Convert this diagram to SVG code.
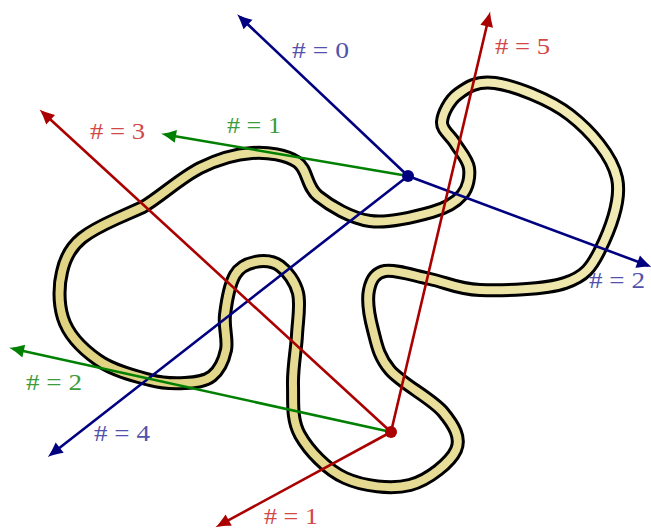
<svg xmlns="http://www.w3.org/2000/svg" width="651" height="529" viewBox="0 0 651 529">
<style>
.ray{fill:none;stroke-width:2.6}
.b{stroke:#000080}
.r{stroke:#aa0000}
.g{stroke:#008000}
.lbl{font-family:"Liberation Serif","Times New Roman",serif;font-size:24px}
.lb{fill:#5252ac}
.lr{fill:#d24848}
.lg{fill:#3c9c3c}
</style>
<defs>
<linearGradient id="yel" gradientUnits="userSpaceOnUse" x1="80" y1="470" x2="600" y2="90">
<stop offset="0" stop-color="#ddcf7a"/>
<stop offset="1" stop-color="#f3edba"/>
</linearGradient>
<marker id="ab" markerUnits="userSpaceOnUse" markerWidth="24" markerHeight="24" viewBox="-14 -12 24 24" refX="0" refY="0" orient="auto" overflow="visible"><path d="M4,0 C-1,-1.2 -6,-4 -11,-6.5 L-11,6.5 C-6,4 -1,1.2 4,0 Z" fill="#000080"/></marker>
<marker id="ar" markerUnits="userSpaceOnUse" markerWidth="24" markerHeight="24" viewBox="-14 -12 24 24" refX="0" refY="0" orient="auto" overflow="visible"><path d="M4,0 C-1,-1.2 -6,-4 -11,-6.5 L-11,6.5 C-6,4 -1,1.2 4,0 Z" fill="#aa0000"/></marker>
<marker id="ag" markerUnits="userSpaceOnUse" markerWidth="24" markerHeight="24" viewBox="-14 -12 24 24" refX="0" refY="0" orient="auto" overflow="visible"><path d="M4,0 C-1,-1.2 -6,-4 -11,-6.5 L-11,6.5 C-6,4 -1,1.2 4,0 Z" fill="#008000"/></marker>
<path id="curvePath" d="M143,207 C159.7,197.2 181.8,177 200,168 C218.2,159 235.8,154 252,153 C268.2,152 286,154.8 297,162 C308,169.2 305.8,186.2 318,196 C330.2,205.8 351,218.3 370,221 C389,223.7 416.7,216.3 432,212 C447.3,207.7 455.8,202.3 462,195 C468.2,187.7 470.2,176.7 469,168 C467.8,159.3 459.5,150.7 455,143 C450.5,135.3 441.5,130.2 442,122 C442.5,113.8 449.2,100.5 458,94 C466.8,87.5 476.3,80.5 495,83 C513.7,85.5 549.7,99.2 570,115 C590.3,130.8 612,155.5 617,178 C622,200.5 608.7,232.5 600,250 C591.3,267.5 585,276.3 565,283 C545,289.7 502.5,290.7 480,290 C457.5,289.3 445.8,282.2 430,279 C414.2,275.8 395.2,269.2 385,271 C374.8,272.8 371,280.2 369,290 C367,299.8 369.5,316.7 373,330 C376.5,343.3 378.3,356.3 390,370 C401.7,383.7 432,398.7 443,412 C454,425.3 461.5,437.8 456,450 C450.5,462.2 428.5,480.3 410,485 C391.5,489.7 363.3,486.3 345,478 C326.7,469.7 308.7,450.5 300,435 C291.3,419.5 293.5,401.7 293,385 C292.5,368.3 296.2,350.3 297,335 C297.8,319.7 300.8,304.5 298,293 C295.2,281.5 287.2,271.2 280,266 C272.8,260.8 262.5,260.5 255,262 C247.5,263.5 240,266.2 235,275 C230,283.8 226.5,302.5 225,315 C223.5,327.5 228.2,339.8 226,350 C223.8,360.2 218.8,370.5 212,376 C205.2,381.5 195.3,382.3 185,383 C174.7,383.7 164.2,383.8 150,380 C135.8,376.2 113.7,371 98,360 C82.3,349 68,334 63,318 C58,302 59,284 62,272 C65,258 72,246 82,238 C92,230 105,224 116,219 C125,215 134,211 143,207 Z"/>
</defs>
<g id="curve">
<use href="#curvePath" fill="none" stroke="#000" stroke-width="14" stroke-linejoin="round"/>
<use href="#curvePath" fill="none" stroke="url(#yel)" stroke-width="8" stroke-linejoin="round"/>
</g>
<g id="connectors">
<line class="ray b" x1="408" y1="176" x2="240" y2="17" marker-end="url(#ab)"/>
<line class="ray b" x1="408" y1="176" x2="648" y2="265.5" marker-end="url(#ab)"/>
<line class="ray b" x1="408" y1="176" x2="51" y2="454.5" marker-end="url(#ab)"/>
<line class="ray g" x1="408" y1="176" x2="165" y2="134.5" marker-end="url(#ag)"/>
<line class="ray g" x1="391" y1="432" x2="13" y2="348.7" marker-end="url(#ag)"/>
<line class="ray r" x1="391" y1="432" x2="489.2" y2="15.5" marker-end="url(#ar)"/>
<line class="ray r" x1="391" y1="432" x2="42.5" y2="112.3" marker-end="url(#ar)"/>
<line class="ray r" x1="391" y1="432" x2="219" y2="525.4" marker-end="url(#ar)"/>
</g>
<g id="blue-point"><circle cx="408" cy="176" r="6" fill="#000080"/></g>
<g id="red-point"><circle cx="391" cy="432" r="6" fill="#aa0000"/></g>
<g id="labels">
<text class="lbl lb" x="292" y="58" textLength="57" lengthAdjust="spacingAndGlyphs"># = 0</text>
<text class="lbl lb" x="589" y="288" textLength="56" lengthAdjust="spacingAndGlyphs"># = 2</text>
<text class="lbl lb" x="94" y="441" textLength="56" lengthAdjust="spacingAndGlyphs"># = 4</text>
<text class="lbl lg" x="227" y="133" textLength="54" lengthAdjust="spacingAndGlyphs"># = 1</text>
<text class="lbl lg" x="26" y="390" textLength="56" lengthAdjust="spacingAndGlyphs"># = 2</text>
<text class="lbl lr" x="495" y="54" textLength="55" lengthAdjust="spacingAndGlyphs"># = 5</text>
<text class="lbl lr" x="90" y="139" textLength="55" lengthAdjust="spacingAndGlyphs"># = 3</text>
<text class="lbl lr" x="264" y="524" textLength="54" lengthAdjust="spacingAndGlyphs"># = 1</text>
</g>
</svg>
